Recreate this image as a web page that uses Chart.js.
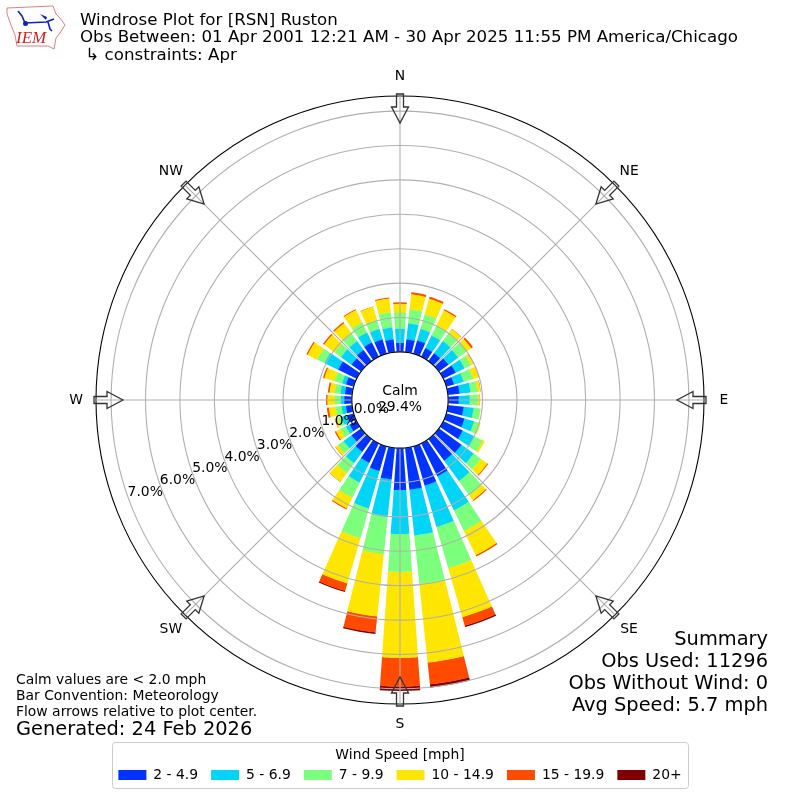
<!DOCTYPE html>
<html>
<head>
<meta charset="utf-8">
<title>Windrose Plot</title>
<script src="https://cdn.jsdelivr.net/npm/chart.js@4/dist/chart.umd.min.js"></script>
<style>
  html, body { margin: 0; padding: 0; background: #ffffff; }
  canvas { display: block; }
</style>
</head>
<body>
<canvas id="rose" width="800" height="800"></canvas>
<script>
const compass = ['N', 'NE', 'E', 'SE', 'S', 'SW', 'W', 'NW'];
const speedBins = ['2 - 4.9', '5 - 6.9', '7 - 9.9', '10 - 14.9', '15 - 19.9', '20+'];
const binColors = ['#0033ff', '#00d5f7', '#7cff7c', '#ffe600', '#ff4a00', '#800000'];

// percent of obs per direction, starting at 0 deg and going clockwise by 10 deg
const bin2to5 = [.26,.37,.40,.28,.28,.34,.40,.23,.34,.31,.46,.55,.63,.81,.78,1.07,1.19,1.22,
                 1.22,.92,.75,.63,.46,.34,.23,.20,.18,.22,.21,.23,.60,.34,.40,.46,.43,.37];
const bin5to7 = [.41,.47,.35,.41,.44,.35,.29,.29,.32,.32,.29,.29,.38,.44,.73,1.10,1.25,1.34,
                 1.28,1.10,1.13,.64,.41,.29,.12,.17,.13,.10,.13,.12,.44,.38,.32,.32,.32,.35];
const bin7to10 = [.47,.41,.44,.32,.26,.32,.20,.29,.20,.23,.20,.17,.26,.26,.52,.67,1.25,1.42,
                  1.10,1.08,.90,.49,.35,.20,.17,.10,.17,.17,.17,.23,.23,.23,.26,.32,.26,.44];
const bin10to15 = [.26,.44,.47,.49,.17,.15,.09,.17,.09,.06,.01,.03,.07,.23,.17,.78,1.48,2.30,
                   2.50,1.83,1.37,.35,.32,.09,.15,.10,.20,.22,.15,.31,.32,.38,.38,.41,.41,.41];
const bin15to20 = [.04,.06,.06,.04,.01,.06,.01,.01,.01,.01,0,0,0,.03,.03,.04,.26,.64,
                   .84,.47,.23,.03,.01,.01,.04,.01,.06,.04,.05,.04,.04,.04,.04,.03,.01,.03];
const bin20up = [0,0,0,0,0,0,0,0,0,0,0,0,0,0,0,0,.04,.09,
                 .12,.04,.03,0,0,0,0,0,0,0,0,0,0,0,0,0,0,0];
const binValues = [bin2to5, bin5to7, bin7to10, bin10to15, bin15to20, bin20up];

const rMin = -1.4;   // leaves the calm hole in the middle
const rMax = 7.44;
const rTicks = [0, 1, 2, 3, 4, 5, 6, 7];

const titleLines = [
  'Windrose Plot for [RSN] Ruston',
  'Obs Between: 01 Apr 2001 12:21 AM - 30 Apr 2025 11:55 PM America/Chicago',
  ' \u21b3 constraints: Apr'
];
const noteLines = [
  'Calm values are < 2.0 mph',
  'Bar Convention: Meteorology',
  'Flow arrows relative to plot center.'
];
const generatedText = 'Generated: 24 Feb 2026';
const summaryLines = ['Summary', 'Obs Used: 11296', 'Obs Without Wind: 0', 'Avg Speed: 5.7 mph'];
const calmLines = ['Calm', '29.4%'];

const FONT = '"DejaVu Sans"';
Chart.defaults.font.family = FONT;
Chart.defaults.color = '#000000';

// each bin holds the running total, its arc is cut into a ring in afterDatasetsUpdate
function cumulative(upTo, dir) {
  let sum = 0;
  for (let b = 0; b <= upTo; b++) sum += binValues[b][dir];
  return sum;
}

// slot 0 swings round to the 010 bar, then bar / gap pairs, N comes last and wraps
function buildSlots(b) {
  const out = [rMin];
  for (let i = 1; i <= 36; i++) {
    out.push(cumulative(b, i % 36));
    if (i < 36) out.push(rMin);
  }
  return out;
}

function slotAngle(ctx) {
  if (ctx.dataIndex === 0) return 6;
  return ctx.dataIndex % 2 === 1 ? 8 : 2;
}

function drawArrow(ctx, scale, i) {
  const pts = [[306, 3.5], [293, 3.5], [293, 8.5], [277, 0], [293, -8.5], [293, -3.5], [306, -3.5]];
  const a = i * Math.PI / 4;
  ctx.beginPath();
  pts.forEach((p, n) => {
    const x = scale.xCenter + p[0] * Math.sin(a) + p[1] * Math.cos(a);
    const y = scale.yCenter - p[0] * Math.cos(a) + p[1] * Math.sin(a);
    if (n === 0) ctx.moveTo(x, y); else ctx.lineTo(x, y);
  });
  ctx.closePath();
  ctx.lineWidth = 1.3;
  ctx.strokeStyle = '#333333';
  ctx.stroke();
}

function drawLogo(ctx) {
  const outline = [[7,8],[53,6],[56,14],[60,18],[65,25],[60,33],[56,38],[54,49],[48,46],[17,46],[15,35],[11,25],[7,14]];
  ctx.beginPath();
  outline.forEach((p, n) => n === 0 ? ctx.moveTo(p[0], p[1]) : ctx.lineTo(p[0], p[1]));
  ctx.closePath();
  ctx.strokeStyle = '#e08080';
  ctx.lineWidth = 1;
  ctx.stroke();

  ctx.strokeStyle = '#1020c0';
  ctx.fillStyle = '#1020c0';
  ctx.lineWidth = 1.6;
  ctx.beginPath();
  ctx.moveTo(18, 11); ctx.lineTo(22, 16); ctx.lineTo(25, 23); ctx.lineTo(46, 22); ctx.lineTo(54, 19);
  ctx.moveTo(48, 22); ctx.lineTo(50, 29); ctx.lineTo(52, 31);
  ctx.stroke();
  ctx.beginPath();
  ctx.moveTo(40, 14); ctx.lineTo(47, 17); ctx.lineTo(46, 20);
  ctx.closePath();
  ctx.fill();
  ctx.beginPath();
  ctx.arc(25.5, 23.5, 2.5, 0, Math.PI * 2);
  ctx.fill();

  ctx.fillStyle = '#cc2222';
  ctx.font = 'italic 17px "Liberation Serif"';
  ctx.textAlign = 'left';
  ctx.textBaseline = 'alphabetic';
  ctx.fillText('IEM', 16, 43);
}

const roseDecor = {
  id: 'roseDecor',
  afterDatasetsUpdate(chart) {
    // turn the pie arcs into rings so the side edges don't pick up the colours under them
    for (let b = 1; b < speedBins.length; b++) {
      const below = chart.getDatasetMeta(b - 1).data;
      chart.getDatasetMeta(b).data.forEach((arc, i) => {
        const inner = below[i].outerRadius;
        // zero height bins draw nothing, the others tuck 0.3px under the bin below
        arc.innerRadius = arc.outerRadius - inner > 0.01 ? inner - 0.3 : arc.outerRadius;
      });
    }
  },
  beforeDraw(chart) {
    const ctx = chart.ctx;
    ctx.save();
    ctx.fillStyle = '#ffffff';
    ctx.fillRect(0, 0, chart.width, chart.height);
    ctx.beginPath();
    ctx.roundRect(112.5, 742.5, 576, 46, 3);
    ctx.strokeStyle = '#cccccc';
    ctx.lineWidth = 1;
    ctx.stroke();
    ctx.restore();
  },
  afterDraw(chart) {
    const ctx = chart.ctx;
    const scale = chart.scales.r;
    ctx.save();

    // calm hole
    ctx.beginPath();
    ctx.arc(scale.xCenter, scale.yCenter, scale.getDistanceFromCenterForValue(0), 0, Math.PI * 2);
    ctx.fillStyle = '#ffffff';
    ctx.fill();
    ctx.strokeStyle = '#000000';
    ctx.lineWidth = 1.1;
    ctx.stroke();

    compass.forEach((c, i) => drawArrow(ctx, scale, i));

    ctx.fillStyle = '#000000';
    ctx.font = '13.9px ' + FONT;
    ctx.textAlign = 'center';
    ctx.textBaseline = 'middle';
    compass.forEach((c, i) => {
      const p = scale.getPointPosition(i, 324);
      ctx.fillText(c, p.x, p.y);
    });
    ctx.fillText(calmLines[0], scale.xCenter, 391);
    ctx.fillText(calmLines[1], scale.xCenter, 407);

    // radial tick labels run out along the 250 deg spoke
    ctx.textAlign = 'left';
    ctx.textBaseline = 'alphabetic';
    rTicks.forEach(v => {
      const p = scale.getPointPosition(0, scale.getDistanceFromCenterForValue(v), 250 * Math.PI / 180);
      ctx.fillText(v.toFixed(1) + '%', p.x - 1, p.y - 3);
    });

    ctx.font = '16.67px ' + FONT;
    ctx.textBaseline = 'middle';
    ctx.fillText(titleLines[0], 80, 21);
    ctx.fillText(titleLines[1], 80, 38);
    ctx.fillText(titleLines[2], 80, 56);

    ctx.font = '13.9px ' + FONT;
    noteLines.forEach((t, i) => ctx.fillText(t, 16, 680 + i * 16));
    ctx.font = '19.4px ' + FONT;
    ctx.fillText(generatedText, 16, 730);

    ctx.textAlign = 'right';
    summaryLines.forEach((t, i) => ctx.fillText(t, 768, 640 + i * 22));

    drawLogo(ctx);
    ctx.restore();
  }
};

const datasets = speedBins.map((name, b) => ({
  label: name,
  data: buildSlots(b),
  backgroundColor: binColors[b],
  borderWidth: 0,
  angle: slotAngle
}));

new Chart(document.getElementById('rose'), {
  type: 'polarArea',
  data: { labels: compass, datasets: datasets },
  plugins: [roseDecor],
  options: {
    responsive: false,
    animation: false,
    devicePixelRatio: 1,
    layout: { padding: { top: 96, left: 96, right: 96, bottom: 8 } },
    plugins: {
      tooltip: { enabled: false },
      title: { display: false },
      legend: {
        position: 'bottom',
        title: {
          display: true,
          text: 'Wind Speed [mph]',
          color: '#000000',
          font: { size: 13.9 },
          padding: { top: 43, bottom: -10 }
        },
        labels: {
          boxWidth: 28,
          boxHeight: 10,
          padding: 13,
          color: '#000000',
          font: { size: 13.9 },
          generateLabels: () => speedBins.map((name, b) => ({
            text: name,
            fillStyle: binColors[b],
            strokeStyle: binColors[b],
            lineWidth: 0,
            hidden: false,
            datasetIndex: b
          }))
        }
      }
    },
    scales: {
      r: {
        min: rMin,
        max: rMax,
        startAngle: 0,
        afterBuildTicks: axis => {
          axis.ticks = rTicks.concat([rMax]).map(v => ({ value: v }));
        },
        ticks: { display: false },
        pointLabels: { display: false },
        angleLines: { display: true, color: '#b0b0b0', lineWidth: 1.1 },
        grid: {
          z: 1,
          circular: true,
          lineWidth: 1.1,
          color: ctx => ctx.tick && ctx.tick.value === rMax ? '#000000' : '#b0b0b0'
        }
      }
    }
  }
});
</script>
</body>
</html>
